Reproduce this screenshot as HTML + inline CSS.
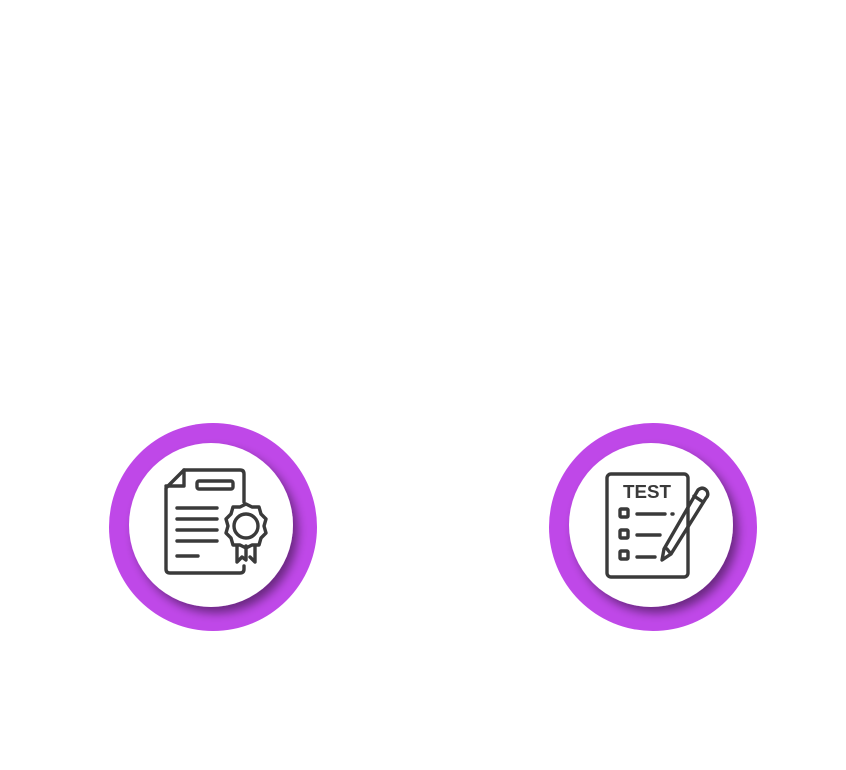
<!DOCTYPE html>
<html><head><style>html,body{margin:0;padding:0;background:#fff;width:846px;height:770px;overflow:hidden}</style></head>
<body>
<svg width="846" height="770" viewBox="0 0 846 770" xmlns="http://www.w3.org/2000/svg">
<defs>
<filter id="sh" x="-30%" y="-30%" width="160%" height="160%">
<feGaussianBlur in="SourceAlpha" stdDeviation="5"/>
<feOffset dx="5" dy="6"/>
<feComponentTransfer><feFuncA type="linear" slope="0.45"/></feComponentTransfer>
<feMerge><feMergeNode/><feMergeNode in="SourceGraphic"/></feMerge>
</filter>
</defs>
<circle cx="213" cy="527" r="104" fill="#bf48e8"/>
<circle cx="211" cy="525" r="82" fill="#fff" filter="url(#sh)"/>
<circle cx="653" cy="527" r="104" fill="#bf48e8"/>
<circle cx="651" cy="525" r="82" fill="#fff" filter="url(#sh)"/>
<g fill="none" stroke="#3a3a3a" stroke-width="3.4" stroke-linecap="round" stroke-linejoin="round">
<path d="M244 502 V474 Q244 470 240 470 H184 L166 488 V569 Q166 573 170 573 H240 Q244 573 244 569 V566"/>
<path d="M184 470 V486 H166"/>
<rect x="197" y="481" width="36" height="8" rx="2"/>
<path d="M177 508 H217 M177 519 H217 M177 530 H217 M177 541 H217 M177 556 H198"/>
<path d="M246 504 l6 3 7 0 2 7 5 5 -2 7 2 7 -5 5 -2 7 -7 0 -6 3 -6 -3 -7 0 -2 -7 -5 -5 2 -7 -2 -7 5 -5 2 -7 7 0 z"/>
<circle cx="246" cy="526" r="12"/>
<path d="M237 546 V562 L242 557 L246 560 V546 M255 546 V562 L250 557"/>
<rect x="607" y="474" width="81" height="103" rx="4"/>
<rect x="620" y="509" width="8" height="8" rx="1"/>
<rect x="620" y="530" width="8" height="8" rx="1"/>
<rect x="620" y="551" width="8" height="8" rx="1"/>
<path d="M637 514 H665 M672 514 H673 M637 535 H660 M637 557 H655"/>
<path d="M698 490 Q703 486 707 491 Q709 495 706 498 L671 554 L662 560 L664 549 Z M694 496 L703 502 M667 549 L671 554"/>
</g>
<text x="647" y="498" font-family="Liberation Sans, sans-serif" font-weight="bold" font-size="18" fill="#3a3a3a" text-anchor="middle" textLength="48" lengthAdjust="spacingAndGlyphs">TEST</text>
</svg>
</body></html>
